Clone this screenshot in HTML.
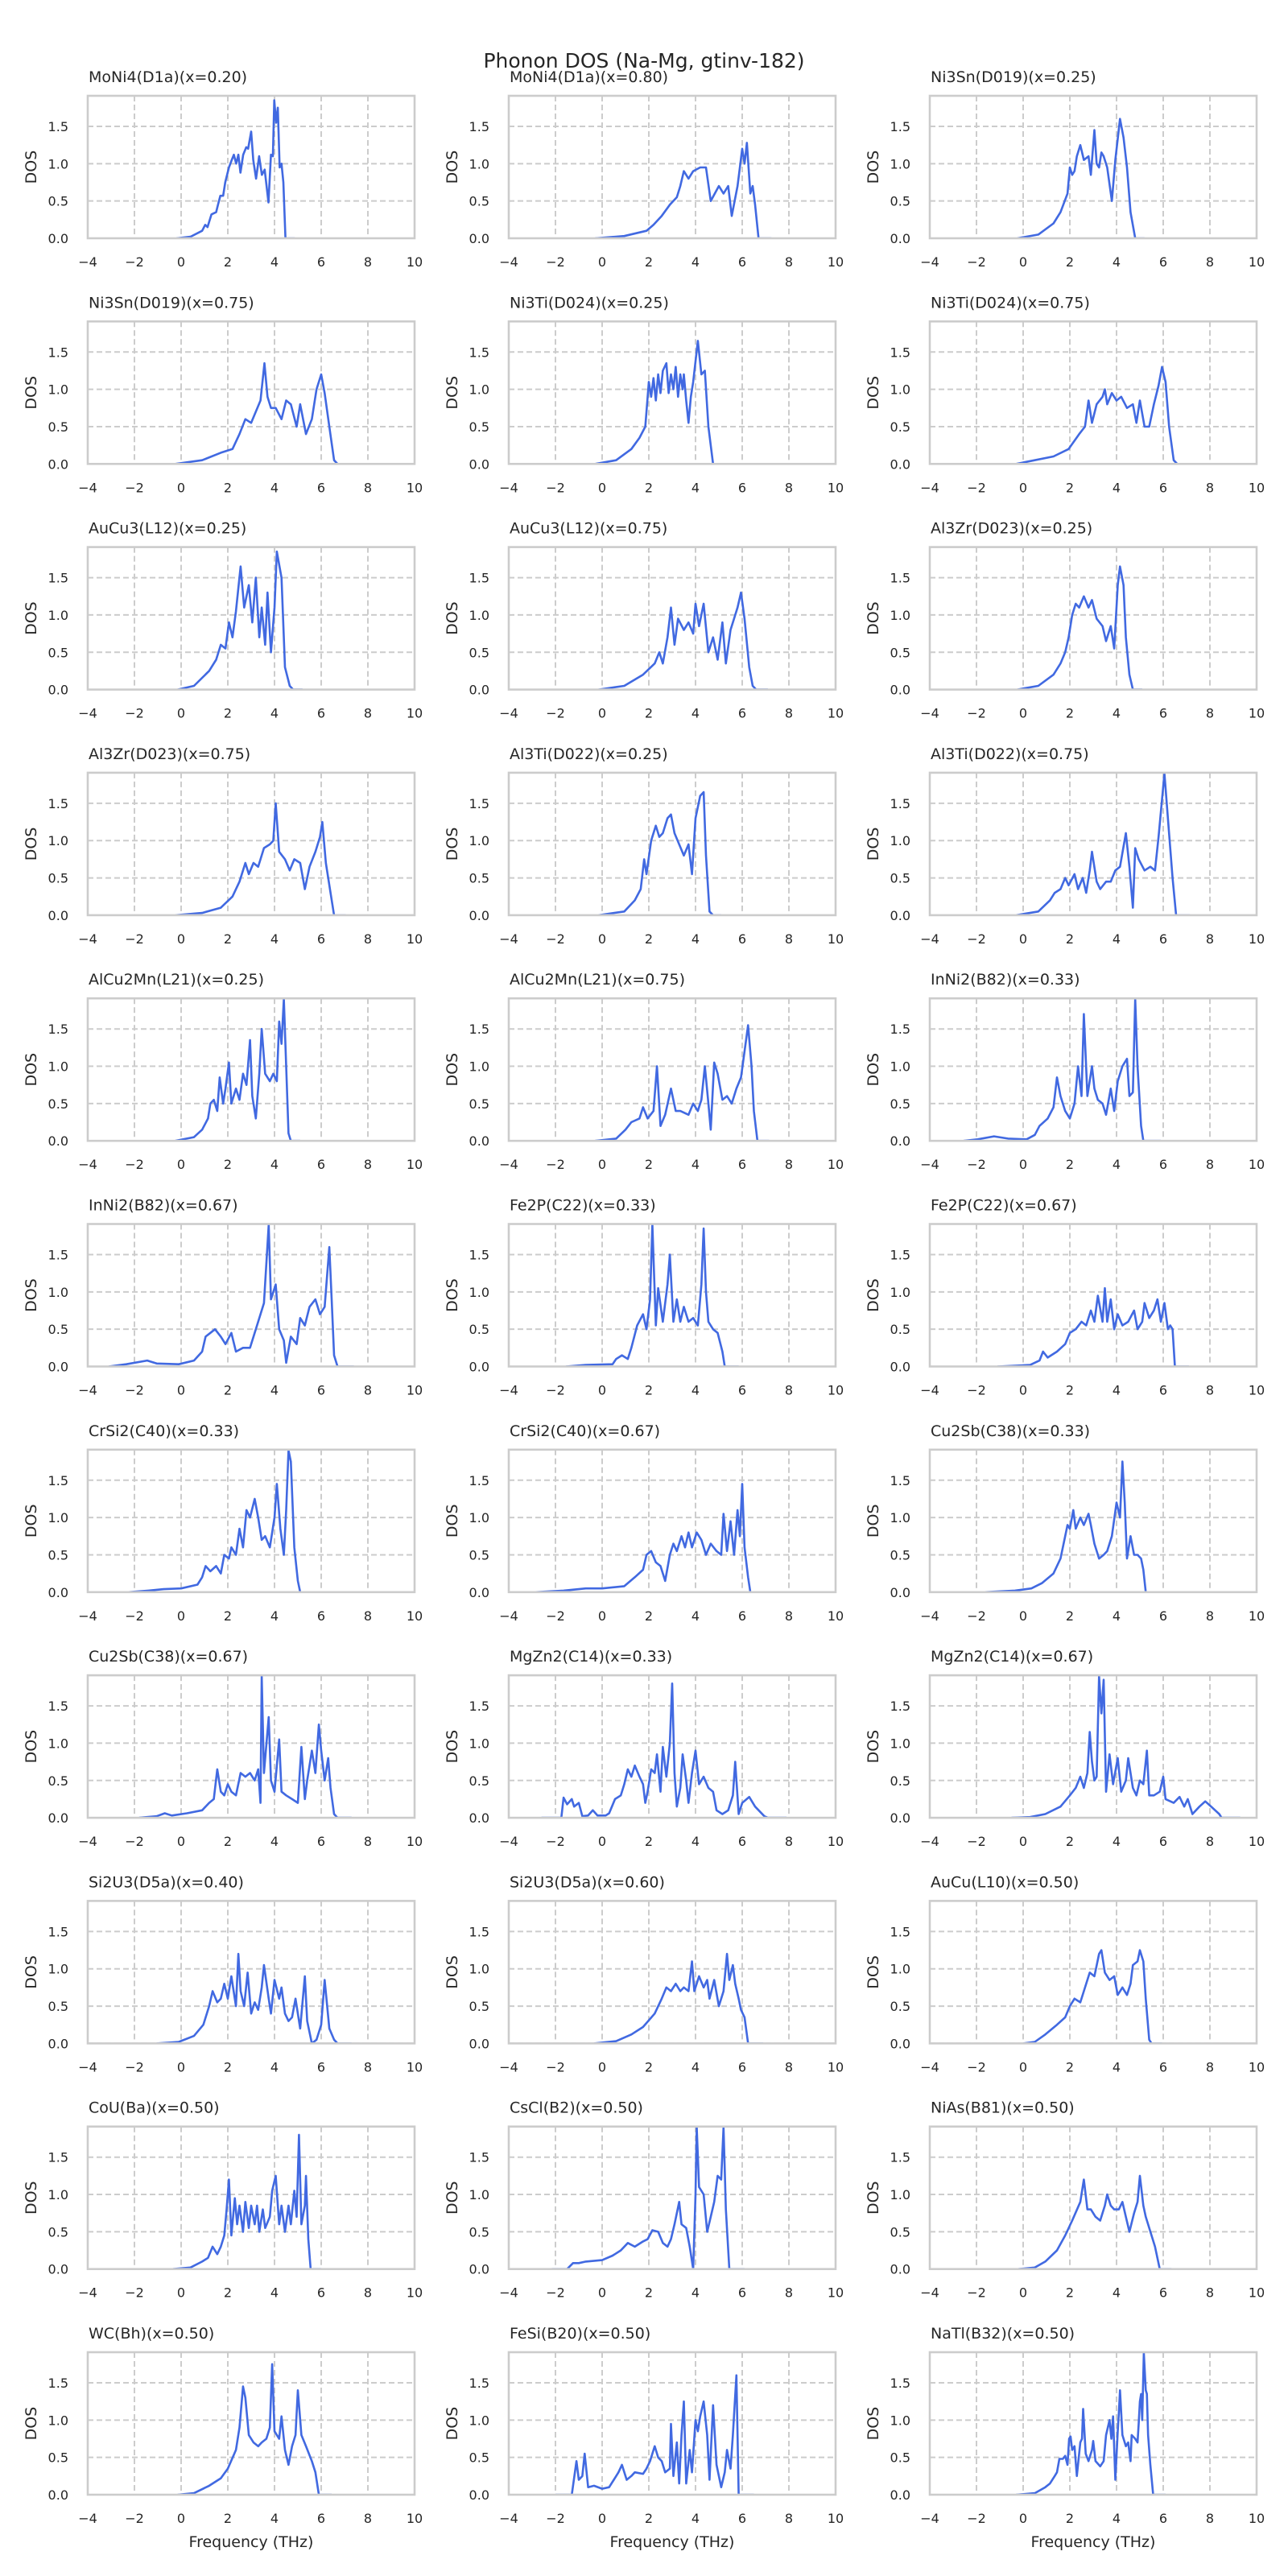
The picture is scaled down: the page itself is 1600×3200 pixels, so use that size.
<!DOCTYPE html>
<html><head><meta charset="utf-8"><title>Phonon DOS</title>
<style>
html,body{margin:0;padding:0;background:#fff;}
svg{display:block;font-family:"DejaVu Sans","Liberation Sans",sans-serif;}
</style></head>
<body>
<svg id="fig" width="1600" height="3200" viewBox="0 0 1600 3200">
<rect width="1600" height="3200" fill="#fff"/>
<text x="800" y="84" text-anchor="middle" font-size="25" fill="#262626">Phonon DOS (Na-Mg, gtinv-182)</text>
</svg>
<script>
const titles = ["MoNi4(D1a)(x=0.20)","MoNi4(D1a)(x=0.80)","Ni3Sn(D019)(x=0.25)","Ni3Sn(D019)(x=0.75)","Ni3Ti(D024)(x=0.25)","Ni3Ti(D024)(x=0.75)","AuCu3(L12)(x=0.25)","AuCu3(L12)(x=0.75)","Al3Zr(D023)(x=0.25)","Al3Zr(D023)(x=0.75)","Al3Ti(D022)(x=0.25)","Al3Ti(D022)(x=0.75)","AlCu2Mn(L21)(x=0.25)","AlCu2Mn(L21)(x=0.75)","InNi2(B82)(x=0.33)","InNi2(B82)(x=0.67)","Fe2P(C22)(x=0.33)","Fe2P(C22)(x=0.67)","CrSi2(C40)(x=0.33)","CrSi2(C40)(x=0.67)","Cu2Sb(C38)(x=0.33)","Cu2Sb(C38)(x=0.67)","MgZn2(C14)(x=0.33)","MgZn2(C14)(x=0.67)","Si2U3(D5a)(x=0.40)","Si2U3(D5a)(x=0.60)","AuCu(L10)(x=0.50)","CoU(Ba)(x=0.50)","CsCl(B2)(x=0.50)","NiAs(B81)(x=0.50)","WC(Bh)(x=0.50)","FeSi(B20)(x=0.50)","NaTl(B32)(x=0.50)"];
const xTicks = [-4,-2,0,2,4,6,8,10];
const yTicks = [0,0.5,1.0,1.5];
const yTickLabels = ["0.0","0.5","1.0","1.5"];
const xDomain = [-4,10];
const yDomain = [0,1.91];

const s0=[[-0.2,0],[0.4,0.02],[0.9,0.1],[1.03,0.18],[1.13,0.15],[1.3,0.32],[1.5,0.35],[1.58,0.45],[1.68,0.57],[1.8,0.57],[1.89,0.75],[2.05,0.95],[2.17,1.05],[2.26,1.12],[2.36,1.0],[2.45,1.12],[2.54,0.88],[2.66,1.12],[2.79,1.22],[2.87,1.2],[3.0,1.43],[3.09,1.05],[3.21,0.8],[3.34,1.1],[3.46,0.85],[3.58,0.92],[3.74,0.48],[3.85,1.12],[3.93,1.1],[3.99,1.85],[4.07,1.55],[4.14,1.75],[4.22,0.95],[4.3,1.0],[4.38,0.75],[4.47,0],[4.87,0]];
const s1=[[-0.3,0],[0.95,0.03],[1.9,0.1],[2.2,0.18],[2.55,0.3],[2.9,0.45],[3.2,0.55],[3.35,0.7],[3.5,0.9],[3.7,0.8],[3.9,0.9],[4.2,0.95],[4.45,0.95],[4.65,0.5],[5.0,0.7],[5.2,0.6],[5.4,0.7],[5.55,0.3],[5.8,0.7],[6.0,1.2],[6.1,1.0],[6.2,1.28],[6.35,0.6],[6.45,0.7],[6.55,0.45],[6.7,0],[7.25,0]];
const s2=[[-0.25,0],[0.65,0.05],[1.3,0.2],[1.6,0.35],[1.9,0.6],[2.0,0.95],[2.1,0.85],[2.2,0.9],[2.3,1.1],[2.45,1.25],[2.6,1.05],[2.8,1.1],[2.9,0.85],[3.05,1.45],[3.15,1.0],[3.25,0.95],[3.35,1.15],[3.45,1.1],[3.6,0.95],[3.8,0.5],[3.95,1.05],[4.15,1.6],[4.3,1.35],[4.45,0.95],[4.6,0.35],[4.8,0],[5.2,0]];
const s3=[[-0.25,0],[0.9,0.05],[1.7,0.15],[2.2,0.2],[2.5,0.4],[2.75,0.6],[3.0,0.55],[3.2,0.7],[3.4,0.85],[3.57,1.35],[3.7,0.9],[3.85,0.75],[4.05,0.75],[4.3,0.6],[4.5,0.85],[4.7,0.8],[4.95,0.5],[5.1,0.8],[5.35,0.4],[5.6,0.6],[5.8,1.0],[6.0,1.2],[6.15,0.95],[6.35,0.5],[6.55,0.05],[6.7,0],[7.25,0]];
const s4=[[-0.3,0],[0.6,0.05],[1.25,0.2],[1.6,0.35],[1.85,0.5],[2.0,1.1],[2.1,0.9],[2.2,1.15],[2.3,0.85],[2.4,1.2],[2.5,0.95],[2.6,1.25],[2.75,1.35],[2.85,0.95],[2.95,1.2],[3.05,1.0],[3.15,1.3],[3.25,0.9],[3.35,1.2],[3.45,1.0],[3.5,1.2],[3.6,0.85],[3.7,0.55],[3.8,0.9],[3.9,1.1],[4.1,1.65],[4.25,1.2],[4.4,1.25],[4.55,0.5],[4.75,0],[5.15,0]];
const s5=[[-0.3,0],[1.3,0.1],[1.95,0.2],[2.4,0.4],[2.65,0.5],[2.8,0.85],[2.95,0.55],[3.15,0.8],[3.4,0.9],[3.5,1.0],[3.6,0.8],[3.8,0.95],[4.0,0.85],[4.2,0.9],[4.45,0.75],[4.7,0.8],[4.85,0.55],[5.0,0.85],[5.2,0.5],[5.4,0.5],[5.6,0.8],[5.8,1.05],[5.95,1.3],[6.1,1.1],[6.25,0.5],[6.45,0.05],[6.6,0],[7.2,0]];
const s6=[[-0.15,0],[0.55,0.05],[1.2,0.25],[1.5,0.4],[1.7,0.6],[1.9,0.55],[2.05,0.9],[2.2,0.7],[2.35,1.05],[2.55,1.65],[2.7,1.1],[2.9,1.4],[3.05,0.9],[3.2,1.5],[3.35,0.7],[3.45,1.1],[3.6,0.6],[3.7,1.3],[3.85,0.5],[4.0,1.1],[4.1,1.85],[4.3,1.5],[4.45,0.3],[4.65,0.05],[4.8,0],[5.2,0]];
const s7=[[-0.15,0],[0.95,0.05],[1.75,0.2],[2.25,0.35],[2.45,0.5],[2.6,0.35],[2.8,0.7],[2.95,1.1],[3.1,0.6],[3.25,0.95],[3.5,0.8],[3.7,0.9],[3.9,0.75],[4.0,1.15],[4.15,0.85],[4.35,1.15],[4.55,0.5],[4.75,0.7],[4.95,0.4],[5.15,0.9],[5.3,0.35],[5.5,0.8],[5.8,1.1],[5.95,1.3],[6.1,0.95],[6.3,0.3],[6.45,0.05],[6.6,0],[7.1,0]];
const s8=[[-0.25,0],[0.65,0.05],[1.3,0.2],[1.6,0.35],[1.8,0.5],[1.95,0.7],[2.1,1.0],[2.25,1.15],[2.4,1.1],[2.6,1.25],[2.8,1.1],[2.95,1.2],[3.15,0.95],[3.4,0.85],[3.55,0.65],[3.75,0.85],[3.9,0.55],[4.05,1.4],[4.15,1.65],[4.3,1.4],[4.4,0.7],[4.55,0.2],[4.7,0],[5.1,0]];
const s9=[[-0.25,0],[0.9,0.03],[1.7,0.1],[2.2,0.25],[2.5,0.45],[2.75,0.7],[2.9,0.55],[3.1,0.7],[3.3,0.65],[3.55,0.9],[3.8,0.95],[3.95,1.0],[4.05,1.5],[4.2,0.85],[4.45,0.75],[4.65,0.6],[4.85,0.75],[5.1,0.7],[5.3,0.35],[5.5,0.65],[5.75,0.85],[5.95,1.05],[6.05,1.25],[6.2,0.7],[6.4,0.3],[6.55,0],[7.05,0]];
const s10=[[-0.15,0],[0.95,0.05],[1.4,0.2],[1.65,0.35],[1.8,0.75],[1.9,0.55],[2.1,1.0],[2.3,1.2],[2.45,1.05],[2.6,1.1],[2.8,1.3],[2.95,1.35],[3.1,1.1],[3.3,0.95],[3.5,0.8],[3.7,0.95],[3.85,0.55],[4.0,1.3],[4.2,1.6],[4.35,1.65],[4.45,0.8],[4.6,0.05],[4.75,0],[5.1,0]];
const s11=[[-0.3,0],[0.65,0.05],[1.15,0.2],[1.35,0.3],[1.6,0.35],[1.8,0.5],[1.95,0.4],[2.2,0.55],[2.35,0.35],[2.55,0.5],[2.7,0.3],[2.85,0.6],[2.95,0.85],[3.15,0.45],[3.3,0.35],[3.55,0.45],[3.75,0.45],[3.95,0.6],[4.15,0.65],[4.4,1.1],[4.55,0.65],[4.7,0.1],[4.8,0.9],[4.95,0.75],[5.2,0.6],[5.45,0.65],[5.65,0.6],[5.8,1.05],[5.95,1.55],[6.05,1.9],[6.2,1.3],[6.4,0.5],[6.55,0],[7.15,0]];
const s12=[[-0.25,0],[0.55,0.05],[0.9,0.15],[1.15,0.3],[1.25,0.5],[1.4,0.55],[1.55,0.4],[1.65,0.85],[1.8,0.5],[1.9,0.7],[2.05,1.05],[2.15,0.5],[2.35,0.7],[2.5,0.55],[2.65,0.9],[2.8,0.75],[2.95,1.35],[3.05,0.6],[3.2,0.3],[3.35,0.9],[3.45,1.5],[3.6,0.9],[3.8,0.8],[3.95,0.9],[4.1,0.8],[4.2,1.6],[4.3,1.3],[4.4,1.9],[4.5,1.0],[4.6,0.1],[4.7,0],[5.1,0]];
const s13=[[-0.3,0],[0.6,0.03],[1.0,0.15],[1.25,0.25],[1.6,0.3],[1.75,0.45],[1.95,0.3],[2.2,0.4],[2.35,1.0],[2.5,0.2],[2.7,0.35],[2.95,0.7],[3.15,0.4],[3.35,0.4],[3.7,0.35],[3.9,0.5],[4.1,0.4],[4.25,0.55],[4.4,1.0],[4.55,0.5],[4.65,0.15],[4.8,1.05],[4.95,0.9],[5.15,0.55],[5.35,0.6],[5.55,0.5],[5.75,0.7],[5.95,0.85],[6.1,1.2],[6.25,1.55],[6.4,1.0],[6.5,0.4],[6.65,0],[7.15,0]];
const s14=[[-2.55,0],[-1.95,0.02],[-1.25,0.06],[-0.65,0.03],[0.15,0.02],[0.5,0.08],[0.7,0.2],[1.05,0.3],[1.3,0.45],[1.45,0.85],[1.6,0.6],[1.8,0.4],[2.0,0.3],[2.2,0.5],[2.35,1.0],[2.5,0.6],[2.6,1.7],[2.75,0.6],[2.95,1.0],[3.05,0.7],[3.2,0.55],[3.4,0.5],[3.55,0.35],[3.75,0.7],[3.9,0.4],[4.05,0.8],[4.25,1.0],[4.45,1.1],[4.55,0.6],[4.7,0.65],[4.8,1.9],[4.9,1.0],[5.05,0.2],[5.15,0],[5.9,0]];
const s15=[[-3.1,0],[-2.35,0.03],[-1.45,0.08],[-1.05,0.04],[-0.1,0.03],[0.55,0.08],[0.9,0.2],[1.05,0.4],[1.25,0.45],[1.45,0.5],[1.7,0.4],[1.9,0.3],[2.15,0.45],[2.35,0.2],[2.65,0.25],[2.95,0.25],[3.2,0.5],[3.4,0.7],[3.55,0.85],[3.75,1.9],[3.85,0.9],[4.05,1.1],[4.2,0.5],[4.4,0.35],[4.5,0.05],[4.7,0.4],[4.95,0.3],[5.1,0.65],[5.3,0.55],[5.5,0.8],[5.75,0.9],[5.95,0.7],[6.15,0.8],[6.35,1.6],[6.45,0.9],[6.55,0.15],[6.7,0],[7.4,0]];
const s16=[[-1.55,0],[-0.7,0.02],[0.45,0.03],[0.6,0.1],[0.85,0.15],[1.1,0.1],[1.25,0.25],[1.5,0.55],[1.75,0.7],[1.9,0.5],[2.05,0.9],[2.15,1.9],[2.3,0.55],[2.4,1.05],[2.6,0.6],[2.8,1.1],[2.9,1.5],[3.05,0.6],[3.2,0.9],[3.35,0.6],[3.5,0.8],[3.7,0.6],[3.9,0.65],[4.1,0.55],[4.25,1.1],[4.35,1.85],[4.45,1.0],[4.55,0.6],[4.75,0.5],[4.95,0.45],[5.15,0.2],[5.25,0],[5.85,0]];
const s17=[[-1.1,0],[0.3,0.02],[0.7,0.08],[0.85,0.2],[1.05,0.12],[1.45,0.2],[1.8,0.3],[2.0,0.45],[2.25,0.5],[2.5,0.6],[2.7,0.55],[2.9,0.75],[3.05,0.6],[3.2,0.95],[3.4,0.6],[3.5,1.05],[3.6,0.6],[3.75,0.9],[3.9,0.5],[4.05,0.7],[4.25,0.55],[4.5,0.6],[4.75,0.75],[4.9,0.5],[5.1,0.6],[5.2,0.85],[5.4,0.65],[5.6,0.75],[5.75,0.9],[5.9,0.6],[6.05,0.85],[6.2,0.5],[6.3,0.55],[6.4,0.5],[6.5,0],[7.1,0]];
const s18=[[-2.25,0],[-1.4,0.02],[-0.75,0.04],[0,0.05],[0.7,0.1],[0.9,0.2],[1.05,0.35],[1.25,0.28],[1.5,0.35],[1.7,0.25],[1.85,0.5],[2.05,0.45],[2.15,0.6],[2.35,0.5],[2.5,0.85],[2.65,0.6],[2.8,1.1],[2.95,1.0],[3.15,1.25],[3.3,1.0],[3.45,0.7],[3.6,0.75],[3.8,0.6],[4.0,1.0],[4.1,1.45],[4.25,0.85],[4.4,0.5],[4.5,1.1],[4.6,1.9],[4.7,1.75],[4.85,0.6],[5.0,0.15],[5.1,0],[5.65,0]];
const s19=[[-2.85,0],[-1.65,0.02],[-0.7,0.05],[0,0.05],[0.95,0.08],[1.4,0.2],[1.75,0.3],[1.9,0.5],[2.1,0.55],[2.3,0.4],[2.5,0.35],[2.7,0.15],[2.9,0.5],[3.05,0.65],[3.2,0.55],[3.4,0.75],[3.55,0.6],[3.7,0.8],[3.85,0.6],[4.05,0.8],[4.25,0.7],[4.45,0.5],[4.65,0.65],[4.9,0.55],[5.1,0.5],[5.2,1.05],[5.35,0.55],[5.5,0.95],[5.65,0.5],[5.8,1.1],[5.9,0.75],[6.0,1.45],[6.1,0.6],[6.25,0.2],[6.35,0],[7.1,0]];
const s20=[[-1.65,0],[-0.35,0.02],[0.35,0.05],[0.8,0.12],[1.3,0.25],[1.6,0.45],[1.8,0.75],[1.9,0.9],[2.0,0.85],[2.15,1.1],[2.25,0.85],[2.45,1.0],[2.6,0.9],[2.8,1.05],[2.9,0.9],[3.05,0.65],[3.25,0.45],[3.45,0.5],[3.6,0.55],[3.8,0.75],[4.0,1.2],[4.15,1.0],[4.25,1.75],[4.35,1.2],[4.45,0.45],[4.6,0.75],[4.75,0.5],[4.9,0.5],[5.05,0.45],[5.15,0.3],[5.25,0],[5.9,0]];
const s21=[[-1.8,0],[-1.05,0.02],[-0.7,0.06],[-0.4,0.03],[0.25,0.06],[0.9,0.1],[1.2,0.2],[1.4,0.25],[1.55,0.65],[1.7,0.35],[1.85,0.3],[2.0,0.45],[2.15,0.35],[2.35,0.3],[2.55,0.6],[2.75,0.55],[2.95,0.6],[3.15,0.5],[3.3,0.65],[3.4,0.2],[3.45,1.9],[3.55,0.6],[3.75,1.35],[3.85,0.5],[4.0,0.35],[4.2,1.05],[4.3,0.35],[4.5,0.3],[4.75,0.25],[5.0,0.2],[5.15,0.95],[5.3,0.25],[5.4,0.5],[5.6,0.9],[5.75,0.6],[5.9,1.25],[6.0,0.9],[6.15,0.5],[6.3,0.8],[6.4,0.4],[6.55,0.05],[6.7,0],[7.3,0]];
const s22=[[-2.6,0],[-1.75,0],[-1.65,0.27],[-1.5,0.18],[-1.3,0.25],[-1.2,0.15],[-1.0,0.2],[-0.85,0.02],[-0.6,0.03],[-0.4,0.1],[-0.2,0.03],[0.15,0.03],[0.3,0.06],[0.55,0.25],[0.8,0.3],[0.95,0.45],[1.1,0.65],[1.25,0.55],[1.4,0.7],[1.6,0.55],[1.75,0.45],[1.85,0.2],[1.95,0.35],[2.1,0.65],[2.25,0.6],[2.35,0.85],[2.5,0.35],[2.6,0.95],[2.75,0.55],[2.9,1.0],[3.0,1.8],[3.1,0.6],[3.2,0.15],[3.35,0.4],[3.45,0.85],[3.6,0.5],[3.7,0.2],[3.85,0.6],[4.0,0.9],[4.15,0.45],[4.35,0.55],[4.55,0.4],[4.75,0.35],[4.9,0.1],[5.15,0.05],[5.4,0.1],[5.6,0.3],[5.7,0.75],[5.85,0.05],[6.0,0.2],[6.3,0.28],[6.55,0.15],[6.95,0.02],[7.1,0],[7.9,0]];
const s23=[[-0.5,0],[0.3,0.01],[0.95,0.05],[1.6,0.15],[2.0,0.3],[2.25,0.4],[2.45,0.55],[2.6,0.4],[2.75,0.6],[2.85,1.15],[2.95,0.75],[3.05,0.5],[3.15,0.55],[3.25,1.9],[3.35,1.4],[3.45,1.85],[3.55,0.35],[3.7,0.85],[3.85,0.45],[4.05,0.8],[4.2,0.35],[4.4,0.5],[4.5,0.8],[4.7,0.4],[4.85,0.3],[5.0,0.5],[5.15,0.45],[5.3,0.9],[5.4,0.3],[5.6,0.3],[5.85,0.35],[6.0,0.55],[6.1,0.25],[6.45,0.2],[6.7,0.28],[6.9,0.15],[7.05,0.25],[7.25,0.05],[7.55,0.15],[7.8,0.22],[8.05,0.15],[8.4,0.05],[8.5,0],[9.3,0]];
const s24=[[-1.05,0],[-0.1,0.02],[0.55,0.1],[0.95,0.25],[1.2,0.5],[1.35,0.7],[1.55,0.55],[1.7,0.6],[1.85,0.8],[2.0,0.6],[2.15,0.9],[2.35,0.5],[2.45,1.2],[2.55,0.7],[2.7,0.5],[2.85,0.95],[3.0,0.4],[3.15,0.55],[3.3,0.45],[3.45,0.75],[3.55,1.05],[3.75,0.6],[3.85,0.4],[4.0,0.85],[4.2,0.6],[4.3,0.75],[4.45,0.4],[4.6,0.3],[4.75,0.35],[4.9,0.6],[5.1,0.2],[5.3,0.9],[5.4,0.3],[5.6,0],[5.8,0.05],[6.0,0.25],[6.15,0.85],[6.35,0.2],[6.55,0.05],[6.7,0],[7.3,0]];
const s25=[[-0.35,0],[0.6,0.03],[1.25,0.12],[1.75,0.22],[2.25,0.4],[2.55,0.6],[2.75,0.75],[2.95,0.7],[3.15,0.8],[3.35,0.7],[3.5,0.75],[3.7,0.7],[3.85,1.1],[3.95,0.7],[4.15,0.9],[4.35,0.75],[4.5,0.85],[4.6,0.6],[4.8,0.85],[5.0,0.5],[5.2,0.7],[5.35,1.2],[5.45,0.85],[5.6,1.05],[5.7,0.8],[5.85,0.6],[5.95,0.45],[6.1,0.35],[6.25,0],[6.9,0]];
const s26=[[0,0],[0.5,0.02],[0.95,0.12],[1.45,0.25],[1.8,0.35],[2.0,0.5],[2.2,0.6],[2.45,0.55],[2.6,0.7],[2.85,0.95],[3.05,0.9],[3.25,1.2],[3.35,1.25],[3.5,0.95],[3.7,0.85],[3.9,0.9],[4.05,0.65],[4.25,0.75],[4.45,0.65],[4.6,0.8],[4.7,1.05],[4.9,1.1],[5.0,1.25],[5.15,1.1],[5.25,0.6],[5.4,0.05],[5.5,0],[5.95,0]];
const s27=[[-0.35,0],[0.4,0.02],[0.9,0.1],[1.15,0.15],[1.35,0.3],[1.55,0.2],[1.7,0.3],[1.85,0.45],[1.95,0.8],[2.05,1.2],[2.15,0.45],[2.3,0.95],[2.4,0.6],[2.5,0.85],[2.65,0.5],[2.75,0.9],[2.9,0.55],[3.0,0.85],[3.15,0.6],[3.25,0.85],[3.35,0.5],[3.5,0.8],[3.6,0.55],[3.8,0.7],[3.9,1.05],[4.05,1.25],[4.2,0.6],[4.3,0.85],[4.45,0.5],[4.6,0.85],[4.7,0.6],[4.85,1.05],[4.95,0.7],[5.05,1.8],[5.15,0.6],[5.3,0.85],[5.35,1.25],[5.45,0.4],[5.55,0],[6.0,0]];
const s28=[[-2.15,0],[-1.5,0],[-1.25,0.08],[-1.0,0.08],[-0.7,0.1],[0,0.12],[0.45,0.18],[0.8,0.25],[1.1,0.35],[1.4,0.3],[1.75,0.37],[1.95,0.4],[2.15,0.52],[2.4,0.5],[2.6,0.35],[2.8,0.3],[2.95,0.4],[3.1,0.6],[3.3,0.9],[3.4,0.6],[3.6,0.55],[3.75,0.3],[3.9,0],[4.0,1.0],[4.05,1.9],[4.15,1.1],[4.35,1.0],[4.5,0.5],[4.65,0.7],[4.8,0.9],[4.95,1.25],[5.1,1.2],[5.2,1.9],[5.3,0.8],[5.45,0],[6.1,0]];
const s29=[[-0.2,0],[0.5,0.02],[0.95,0.1],[1.45,0.25],[1.8,0.45],[2.1,0.65],[2.45,0.9],[2.6,1.2],[2.75,0.8],[2.9,0.8],[3.1,0.7],[3.3,0.65],[3.5,0.85],[3.6,1.0],[3.75,0.85],[3.9,0.8],[4.1,0.8],[4.25,0.9],[4.4,0.7],[4.55,0.5],[4.75,0.75],[4.9,0.9],[5.0,1.25],[5.15,0.85],[5.25,0.7],[5.5,0.45],[5.65,0.3],[5.85,0],[6.35,0]];
const s30=[[-0.15,0],[0.55,0.02],[1.2,0.12],[1.7,0.22],[2.0,0.35],[2.35,0.6],[2.5,0.9],[2.65,1.45],[2.75,1.3],[2.9,0.8],[3.1,0.7],[3.3,0.65],[3.45,0.7],[3.65,0.75],[3.8,0.9],[3.9,1.75],[4.0,0.85],[4.2,0.75],[4.3,1.05],[4.45,0.6],[4.6,0.4],[4.75,0.65],[4.9,0.8],[5.0,1.4],[5.15,0.8],[5.35,0.65],[5.6,0.45],[5.75,0.3],[5.9,0],[6.45,0]];
const s31=[[-2.0,0],[-1.3,0],[-1.1,0.45],[-1.0,0.2],[-0.85,0.25],[-0.75,0.55],[-0.6,0.1],[-0.35,0.12],[0,0.08],[0.3,0.1],[0.5,0.2],[0.7,0.3],[0.85,0.4],[1.05,0.2],[1.25,0.25],[1.4,0.3],[1.75,0.28],[1.9,0.35],[2.05,0.45],[2.25,0.65],[2.4,0.5],[2.55,0.45],[2.7,0.3],[2.9,0.35],[2.95,0.95],[3.05,0.25],[3.2,0.7],[3.3,0.15],[3.4,0.8],[3.5,1.25],[3.6,0.15],[3.75,0.6],[3.85,0.3],[4.0,1.0],[4.1,0.85],[4.2,1.05],[4.35,1.25],[4.5,0.8],[4.6,0.2],[4.75,1.2],[4.9,0.4],[5.1,0.1],[5.25,0.3],[5.35,0.6],[5.5,0.35],[5.6,0.8],[5.75,1.6],[5.85,0],[6.5,0]];
const s32=[[-0.3,0],[0.5,0.02],[0.95,0.1],[1.15,0.15],[1.35,0.25],[1.45,0.3],[1.55,0.48],[1.7,0.48],[1.8,0.52],[1.9,0.4],[1.97,0.75],[2.03,0.78],[2.1,0.6],[2.2,0.65],[2.3,0.25],[2.45,0.7],[2.52,0.75],[2.57,1.15],[2.68,0.55],[2.8,0.45],[2.95,0.6],[3.0,0.72],[3.1,0.45],[3.3,0.38],[3.45,0.45],[3.55,0.8],[3.7,1.0],[3.78,0.75],[3.85,1.05],[3.95,0.2],[4.05,0.85],[4.1,1.1],[4.15,1.4],[4.25,0.8],[4.4,0.65],[4.5,0.7],[4.6,0.45],[4.65,0.8],[4.8,0.75],[4.9,0.7],[4.95,0.95],[5.0,1.25],[5.05,1.35],[5.1,1.0],[5.17,1.9],[5.25,1.4],[5.3,1.35],[5.35,0.8],[5.45,0.4],[5.57,0],[6.1,0]];
const series=[s0,s1,s2,s3,s4,s5,s6,s7,s8,s9,s10,s11,s12,s13,s14,s15,s16,s17,s18,s19,s20,s21,s22,s23,s24,s25,s26,s27,s28,s29,s30,s31,s32];

const NS="http://www.w3.org/2000/svg";
const svg=document.getElementById('fig');
const colLeft=[109,632,1155], W=406, H=177, top0=119, rowStep=280.3;
function mk(tag,attrs,parent){const e=document.createElementNS(NS,tag);for(const k in attrs)e.setAttribute(k,attrs[k]);parent.appendChild(e);return e;}
const defs=mk('defs',{},svg);

titles.forEach((t,i)=>{
  const r=Math.floor(i/3), c=i%3;
  const L=colLeft[c], T=top0+r*rowStep, B=T+H, R=L+W;
  const sx=v=>L+(v-xDomain[0])/(xDomain[1]-xDomain[0])*W;
  const sy=v=>B-(v-yDomain[0])/(yDomain[1]-yDomain[0])*H;
  const g=mk('g',{},svg);
  
  
  const cp=mk('clipPath',{id:'cp'+i},defs);
  mk('rect',{x:L,y:T,width:W,height:H},cp);
  const gridG=mk('g',{},g);
  
  
  xTicks.forEach(v=>{
    const x=sx(v);
    if(v>xDomain[0]&&v<xDomain[1]) mk('line',{x1:x,x2:x,y1:T,y2:B,stroke:'#cccccc','stroke-width':2,'stroke-dasharray':'7,4'},gridG);
    const tl=mk('text',{x:x,y:B+35,'text-anchor':'middle','font-size':16,fill:'#262626'},g);
    tl.textContent=(v<0?'\u2212'+(-v):String(v));
    
    
  });
  yTicks.forEach((v,k)=>{
    const y=sy(v);
    mk('line',{x1:L,x2:R,y1:y,y2:y,stroke:'#cccccc','stroke-width':2,'stroke-dasharray':'7,4'},gridG);
    const tl=mk('text',{x:L-24,y:y+6,'text-anchor':'end','font-size':16,fill:'#262626'},g);
    tl.textContent=yTickLabels[k];
    
    
  });
  const d=series[i].map((p,k)=>(k?'L':'M')+sx(p[0]).toFixed(1)+','+sy(p[1]).toFixed(1)).join('');
  const path=mk('path',{d:d,fill:'none',stroke:'#4169e1','stroke-width':2.6,'stroke-linejoin':'round','clip-path':'url(#cp'+i+')'},g);
  
  
  const fr=mk('rect',{x:L,y:T,width:W,height:H,fill:'none',stroke:'#cccccc','stroke-width':2.6},g);
  
  
  const tt=mk('text',{x:L+1,y:T-17,'font-size':19,fill:'#262626'},g);
  tt.textContent=t;
  
  
  const yl=mk('text',{x:0,y:0,transform:'translate('+(L-64)+','+(T+H/2)+') rotate(-90)','text-anchor':'middle','font-size':19,fill:'#262626'},g);
  yl.textContent='DOS';
  
  
  if(r===10){
    const xl=mk('text',{x:L+W/2,y:B+65,'text-anchor':'middle','font-size':19,fill:'#262626'},g);
    xl.textContent='Frequency (THz)';
    
    
  }
});
</script>
</body></html>
